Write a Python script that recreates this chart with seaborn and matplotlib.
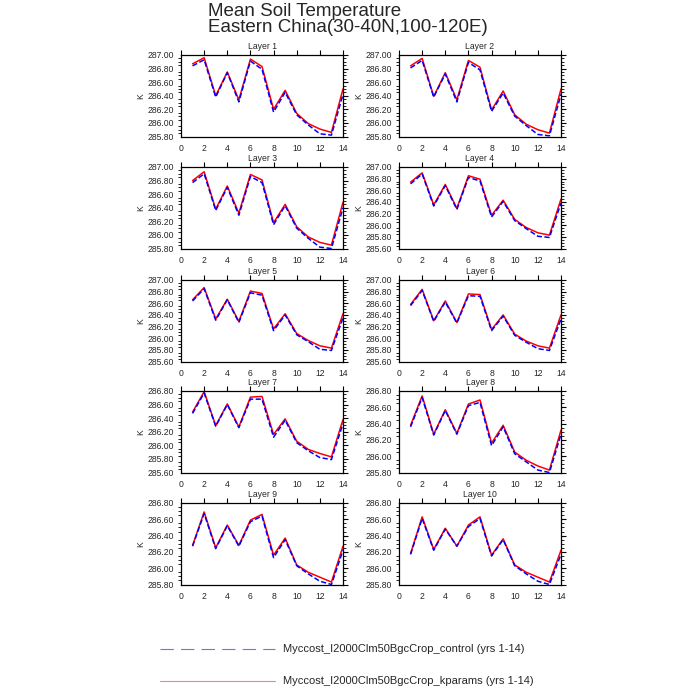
import numpy as np
import pandas as pd
import matplotlib
matplotlib.use("Agg")
import matplotlib.pyplot as plt
import seaborn as sns
from matplotlib.ticker import MultipleLocator, FormatStrFormatter
from matplotlib.lines import Line2D

years = list(range(1, 15))
layer_names = [f"Layer {i}" for i in range(1, 11)]
case_control = "Myccost_I2000Clm50BgcCrop_control (yrs 1-14)"
case_kparams = "Myccost_I2000Clm50BgcCrop_kparams (yrs 1-14)"

control_vals = [
    [286.84, 286.93, 286.38, 286.74, 286.31, 286.91, 286.79, 286.16, 286.45, 286.12, 285.97, 285.84, 285.82, 286.42],
    [286.81, 286.92, 286.38, 286.72, 286.31, 286.89, 286.78, 286.17, 286.44, 286.10, 285.96, 285.83, 285.81, 286.42],
    [286.77, 286.90, 286.36, 286.70, 286.29, 286.86, 286.77, 286.15, 286.43, 286.10, 285.95, 285.82, 285.80, 286.40],
    [286.71, 286.88, 286.33, 286.68, 286.27, 286.82, 286.76, 286.14, 286.41, 286.08, 285.94, 285.81, 285.79, 286.38],
    [286.64, 286.85, 286.31, 286.66, 286.27, 286.78, 286.74, 286.13, 286.40, 286.06, 285.94, 285.81, 285.79, 286.35],
    [286.56, 286.82, 286.29, 286.62, 286.26, 286.73, 286.72, 286.13, 286.38, 286.05, 285.93, 285.82, 285.79, 286.33],
    [286.47, 286.77, 286.28, 286.60, 286.26, 286.68, 286.68, 286.12, 286.37, 286.04, 285.92, 285.82, 285.79, 286.32],
    [286.36, 286.72, 286.26, 286.56, 286.27, 286.62, 286.66, 286.13, 286.36, 286.03, 285.93, 285.83, 285.80, 286.27],
    [286.27, 286.67, 286.24, 286.52, 286.27, 286.57, 286.64, 286.13, 286.35, 286.03, 285.93, 285.84, 285.80, 286.22],
    [286.17, 286.61, 286.22, 286.48, 286.27, 286.51, 286.61, 286.15, 286.35, 286.03, 285.93, 285.84, 285.80, 286.17],
]
kparams_vals = [
    [286.87, 286.96, 286.40, 286.75, 286.34, 286.94, 286.83, 286.20, 286.48, 286.14, 285.99, 285.91, 285.86, 286.50],
    [286.84, 286.95, 286.39, 286.74, 286.34, 286.92, 286.82, 286.19, 286.47, 286.12, 285.98, 285.90, 285.85, 286.50],
    [286.80, 286.93, 286.38, 286.72, 286.32, 286.89, 286.81, 286.18, 286.45, 286.12, 285.97, 285.89, 285.85, 286.48],
    [286.74, 286.90, 286.35, 286.70, 286.29, 286.85, 286.79, 286.17, 286.43, 286.10, 285.96, 285.87, 285.83, 286.45],
    [286.66, 286.87, 286.33, 286.67, 286.29, 286.81, 286.77, 286.16, 286.42, 286.08, 285.96, 285.87, 285.83, 286.42],
    [286.58, 286.84, 286.30, 286.64, 286.27, 286.76, 286.75, 286.15, 286.40, 286.07, 285.95, 285.87, 285.83, 286.40],
    [286.49, 286.79, 286.29, 286.61, 286.27, 286.71, 286.72, 286.16, 286.39, 286.06, 285.94, 285.88, 285.83, 286.38],
    [286.38, 286.74, 286.27, 286.57, 286.28, 286.64, 286.69, 286.16, 286.38, 286.05, 285.95, 285.88, 285.83, 286.32],
    [286.28, 286.69, 286.25, 286.53, 286.28, 286.59, 286.66, 286.16, 286.37, 286.04, 285.95, 285.89, 285.83, 286.27],
    [286.18, 286.63, 286.23, 286.49, 286.27, 286.53, 286.63, 286.16, 286.36, 286.04, 285.95, 285.89, 285.83, 286.22],
]
y_lower = [285.8, 285.8, 285.8, 285.6, 285.6, 285.6, 285.6, 285.8, 285.8, 285.8]
y_upper = [287.0, 287.0, 287.0, 287.0, 287.0, 287.0, 286.8, 286.8, 286.8, 286.8]

sns.set_style("white")
plt.rcParams["font.family"] = ["Liberation Sans", "DejaVu Sans"]

fig = plt.figure(figsize=(7, 7), dpi=100)

col_left = [181 / 700, 399 / 700]
row_top = [55, 167, 280, 391, 503]
w = 162 / 700
h = 81.5 / 700

for i in range(10):
    r, c = divmod(i, 2)
    ax = fig.add_axes([col_left[c], 1 - (row_top[r] + 81.5) / 700, w, h])
    df = pd.DataFrame({
        "year": years * 2,
        "value": control_vals[i] + kparams_vals[i],
        "case": [case_control] * 14 + [case_kparams] * 14,
    })
    sns.lineplot(data=df[df.case == case_kparams], x="year", y="value", ax=ax,
                 color="#ff0000", linewidth=1.1, legend=False)
    sns.lineplot(data=df[df.case == case_control], x="year", y="value", ax=ax,
                 color="#0000ff", linewidth=1.1, dashes=False, legend=False,
                 linestyle=(0, (3.4, 1.6)))
    ax.set_xlim(0, 14)
    ax.set_ylim(y_lower[i], y_upper[i])
    ax.xaxis.set_major_locator(MultipleLocator(2))
    ax.yaxis.set_major_locator(MultipleLocator(0.2))
    ax.yaxis.set_minor_locator(MultipleLocator(0.05))
    ax.yaxis.set_major_formatter(FormatStrFormatter("%.2f"))
    ax.tick_params(axis="both", which="major", direction="out", length=3.5, width=0.8,
                   labelsize=6.2, pad=1.5, top=True, right=True, color="black")
    ax.tick_params(axis="y", which="minor", direction="out", length=2, width=0.6,
                   left=True, right=True, color="black")
    ax.tick_params(axis="x", pad=2.2)
    for s in ax.spines.values():
        s.set_linewidth(0.9)
        s.set_color("black")
    ax.set_xlabel("")
    ax.set_ylabel("K", fontsize=6.2, labelpad=1.5)
    ax.set_title(layer_names[i], fontsize=6.2, pad=4.2)

fig.text(208 / 700, 1 - 15.5 / 700, "Mean Soil Temperature", fontsize=13.5,
         ha="left", va="baseline")
fig.text(208 / 700, 1 - 32 / 700, "Eastern China(30-40N,100-120E)", fontsize=13.5,
         ha="left", va="baseline")

# legend
fig.add_artist(Line2D([160 / 700, 275 / 700], [1 - 649 / 700, 1 - 649 / 700],
                      transform=fig.transFigure, color="#6f6fff", linewidth=0.8,
                      linestyle=(0, (12, 6.5))))
fig.add_artist(Line2D([160 / 700, 275 / 700], [1 - 681 / 700, 1 - 681 / 700],
                      transform=fig.transFigure, color="#ff7f7f", linewidth=0.8))
fig.text(283 / 700, 1 - 649 / 700, case_control, fontsize=8, ha="left", va="center")
fig.text(283 / 700, 1 - 681 / 700, case_kparams, fontsize=8, ha="left", va="center")

fig.savefig("out.png", dpi=100, facecolor="white")
